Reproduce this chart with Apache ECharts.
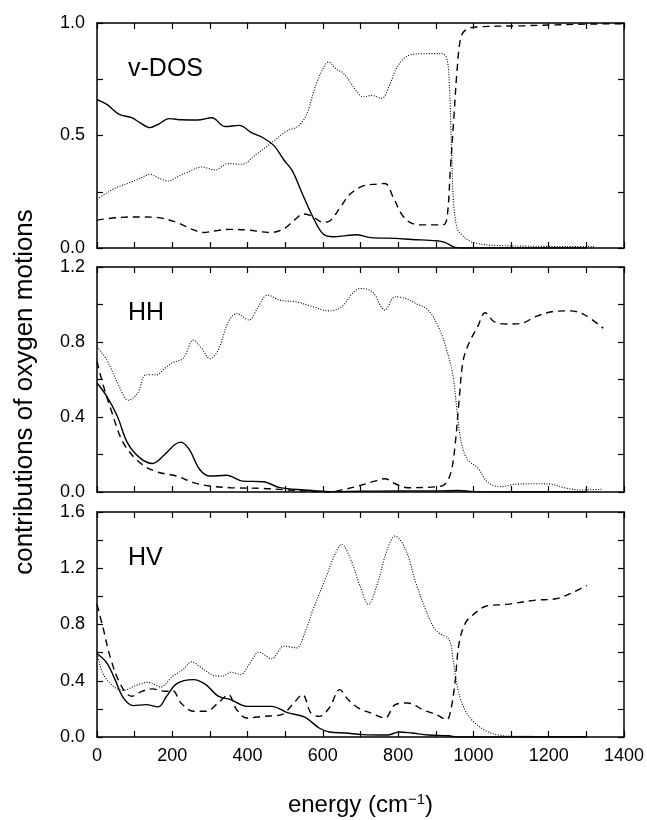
<!DOCTYPE html>
<html><head><meta charset="utf-8">
<script src="https://cdn.jsdelivr.net/npm/echarts@6/dist/echarts.min.js"></script>
<style>html,body{margin:0;padding:0;background:#fff}#c{width:647px;height:820px}</style>
</head><body><div id="c"></div>
<script>
// ---- data (energy in cm^-1, contribution) ----
const panelNames = ['v-DOS', 'HH', 'HV'];
const yTitle = 'contributions of oxygen motions';
const yMax = [1.0, 1.2, 1.6];
const yTickStep = [0.25, 0.2, 0.2];
const yLabelStep = [0.5, 0.4, 0.4];
const xTickStep = 100;
const xLabelStep = 200;

const vdosSolid = [[0,0.66],[26,0.638],[59,0.594],[92,0.579],[114,0.557],[141,0.535],[163,0.55],[192,0.575],[225,0.57],[267,0.569],[305,0.579],[340,0.54],[378,0.545],[410,0.513],[441,0.49],[470,0.455],[497,0.39],[519,0.343],[546,0.239],[574,0.136],[601,0.062],[628,0.05],[661,0.055],[688,0.059],[727,0.046],[792,0.043],[836,0.038],[902,0.032],[924,0.025],[951,0.003],[979,0],[1100,0],[1300,0]];
const vdosDotted = [[0,0.217],[26,0.245],[52,0.269],[88,0.291],[115,0.31],[141,0.328],[165,0.31],[190,0.298],[215,0.318],[238,0.335],[278,0.36],[313,0.347],[349,0.375],[384,0.372],[424,0.417],[464,0.468],[504,0.52],[535,0.542],[557,0.594],[579,0.712],[601,0.80],[615,0.827],[637,0.793],[654,0.778],[690,0.697],[707,0.672],[730,0.678],[756,0.665],[778,0.727],[796,0.80],[823,0.852],[858,0.863],[916,0.864],[929,0.845],[936,0.727],[942,0.431],[947,0.21],[956,0.092],[969,0.058],[991,0.03],[1010,0.02],[1050,0.012],[1150,0.008],[1320,0.006]];
const vdosDashed = [[0,0.124],[61,0.136],[120,0.138],[159,0.136],[212,0.114],[250,0.085],[283,0.069],[320,0.078],[353,0.083],[398,0.08],[460,0.069],[495,0.084],[525,0.125],[548,0.151],[570,0.143],[601,0.114],[619,0.121],[646,0.18],[672,0.239],[707,0.276],[743,0.284],[765,0.287],[787,0.225],[809,0.151],[831,0.114],[858,0.103],[920,0.103],[930,0.136],[939,0.357],[948,0.579],[957,0.80],[966,0.933],[977,0.966],[999,0.981],[1137,0.988],[1300,0.995],[1400,0.997]];

const hhSolid = [[0,0.581],[26,0.51],[54,0.404],[81,0.262],[114,0.182],[147,0.152],[180,0.2],[207,0.253],[223,0.266],[245,0.227],[273,0.12],[300,0.085],[344,0.089],[387,0.058],[442,0.055],[486,0.023],[552,0.011],[617,0.002],[700,0.004],[800,0.006],[900,0.006],[960,0.008],[1000,0.002],[1100,0],[1300,0]];
const hhDotted = [[0,0.775],[26,0.704],[59,0.563],[83,0.489],[108,0.527],[130,0.625],[158,0.625],[180,0.66],[201,0.69],[229,0.713],[256,0.81],[278,0.766],[300,0.71],[322,0.758],[349,0.908],[371,0.952],[404,0.917],[426,0.979],[453,1.05],[486,1.023],[530,1.014],[574,0.988],[617,0.966],[650,0.988],[678,1.058],[699,1.085],[732,1.067],[765,0.970],[792,1.041],[820,1.032],[847,1.005],[880,0.970],[907,0.881],[929,0.758],[946,0.616],[957,0.421],[968,0.262],[984,0.173],[1011,0.129],[1039,0.05],[1072,0.028],[1110,0.041],[1165,0.044],[1208,0.041],[1241,0.023],[1285,0.011],[1340,0.014]];
const hhDashed = [[0,0.696],[15,0.58],[37,0.44],[70,0.262],[114,0.156],[158,0.108],[212,0.085],[256,0.05],[300,0.032],[355,0.023],[442,0.019],[508,0.011],[617,0.0],[650,0.011],[694,0.032],[738,0.058],[765,0.071],[792,0.044],[825,0.023],[902,0.028],[924,0.041],[940,0.103],[951,0.244],[962,0.492],[973,0.704],[990,0.802],[1011,0.881],[1031,0.956],[1055,0.908],[1088,0.896],[1126,0.899],[1165,0.935],[1208,0.961],[1258,0.966],[1296,0.944],[1345,0.873]];

const hvSolid = [[0,0.594],[26,0.527],[48,0.408],[70,0.278],[97,0.223],[130,0.23],[163,0.214],[185,0.29],[212,0.38],[256,0.408],[289,0.373],[322,0.29],[355,0.266],[398,0.218],[464,0.218],[508,0.171],[552,0.142],[590,0.064],[617,0.036],[661,0.028],[705,0.017],[771,0.014],[803,0.036],[836,0.028],[880,0.014],[935,0.009],[957,0],[1100,0],[1300,0]];
const hvDotted = [[0,0.61],[15,0.456],[43,0.361],[70,0.332],[103,0.366],[136,0.389],[169,0.356],[201,0.432],[229,0.48],[251,0.534],[278,0.491],[311,0.437],[333,0.432],[355,0.46],[382,0.444],[404,0.515],[431,0.603],[464,0.556],[497,0.646],[530,0.634],[552,0.741],[574,0.907],[606,1.12],[634,1.31],[650,1.37],[672,1.275],[699,1.073],[721,0.942],[743,1.073],[771,1.334],[792,1.429],[820,1.334],[847,1.097],[880,0.859],[902,0.753],[935,0.693],[946,0.551],[957,0.361],[973,0.218],[995,0.123],[1028,0.052],[1066,0.014],[1121,0.005],[1300,0.003]];
const hvDashed = [[0,0.943],[15,0.788],[37,0.551],[65,0.361],[92,0.29],[119,0.325],[147,0.342],[180,0.325],[201,0.33],[223,0.242],[256,0.183],[289,0.183],[322,0.242],[349,0.301],[371,0.195],[398,0.135],[442,0.147],[491,0.159],[519,0.23],[546,0.301],[568,0.171],[590,0.147],[617,0.207],[645,0.337],[667,0.266],[694,0.207],[727,0.171],[765,0.135],[792,0.23],[825,0.242],[869,0.19],[902,0.159],[929,0.123],[940,0.195],[951,0.385],[962,0.669],[979,0.812],[1000,0.871],[1033,0.93],[1088,0.943],[1165,0.973],[1219,0.983],[1263,1.026],[1301,1.078]];

const panelData = [
  [vdosSolid, vdosDashed, vdosDotted],
  [hhSolid, hhDashed, hhDotted],
  [hvSolid, hvDashed, hvDotted]
];

// ---- layout ----
const FONT = "'Liberation Sans', Arial, Helvetica, sans-serif";
const gridTops = [23, 267, 512];
const gridH = 225;
const styles = [
  {type: 'solid', width: 1.4},
  {type: [7, 5], width: 1.4},
  {type: [1, 1.6], width: 1.1}
];

function isMult(v, step) { const r = v / step; return Math.abs(r - Math.round(r)) < 1e-6; }

const grids = [], xAxes = [], yAxes = [], series = [];
for (let i = 0; i < 3; i++) {
  grids.push({left: 97, right: 23, top: gridTops[i], height: gridH, containLabel: false});
  const axLine = {show: true, onZero: false, lineStyle: {color: '#000', width: 1.5}};
  const tick = {show: true, inside: true, length: 6, lineStyle: {color: '#000', width: 1.2}};
  xAxes.push({
    gridIndex: i, type: 'value', min: 0, max: 1400, interval: xTickStep, position: 'bottom',
    axisLine: axLine, axisTick: tick, splitLine: {show: false},
    axisLabel: {show: i === 2, color: '#000', fontFamily: FONT, fontSize: 18, margin: 10,
      formatter: v => isMult(v, xLabelStep) ? String(v) : ''},
    name: i === 2 ? 'energy (cm{sup|\u22121})' : '',
    nameLocation: 'middle', nameGap: 55,
    nameTextStyle: {color: '#000', fontFamily: FONT, fontSize: 24,
      rich: {sup: {fontFamily: FONT, fontSize: 15, color: '#000', padding: [0, 0, 12, 0]}}}
  });
  xAxes.push({
    gridIndex: i, type: 'value', min: 0, max: 1400, interval: xTickStep, position: 'top',
    axisLine: axLine, axisTick: tick, splitLine: {show: false}, axisLabel: {show: false}
  });
  yAxes.push({
    gridIndex: i, type: 'value', min: 0, max: yMax[i], interval: yTickStep[i], position: 'left',
    axisLine: axLine, axisTick: tick, splitLine: {show: false},
    axisLabel: {color: '#000', fontFamily: FONT, fontSize: 18, margin: 12,
      formatter: v => isMult(v, yLabelStep[i]) ? v.toFixed(1) : ''}
  });
  yAxes.push({
    gridIndex: i, type: 'value', min: 0, max: yMax[i], interval: yTickStep[i], position: 'right',
    axisLine: axLine, axisTick: tick, splitLine: {show: false}, axisLabel: {show: false}
  });
  panelData[i].forEach((d, k) => {
    series.push({
      type: 'line', xAxisIndex: 2 * i, yAxisIndex: 2 * i, data: d,
      symbol: 'none', smooth: 0.35, clip: true, silent: true,
      lineStyle: {color: '#000', width: styles[k].width, type: styles[k].type}
    });
  });
}

const graphics = panelNames.map((n, i) => ({
  type: 'text', left: 128, top: gridTops[i] + 34,
  style: {text: n, fill: '#000', font: '25px ' + FONT}
}));
graphics.push({
  type: 'text', x: 25, y: 392, rotation: Math.PI / 2,
  style: {text: yTitle, fill: '#000', font: '26px ' + FONT, align: 'center', verticalAlign: 'middle'}
});

const chart = echarts.init(document.getElementById('c'), null, {renderer: 'canvas'});
chart.setOption({
  animation: false,
  backgroundColor: '#fff',
  grid: grids, xAxis: xAxes, yAxis: yAxes, series: series, graphic: graphics
});
</script>
</body></html>
